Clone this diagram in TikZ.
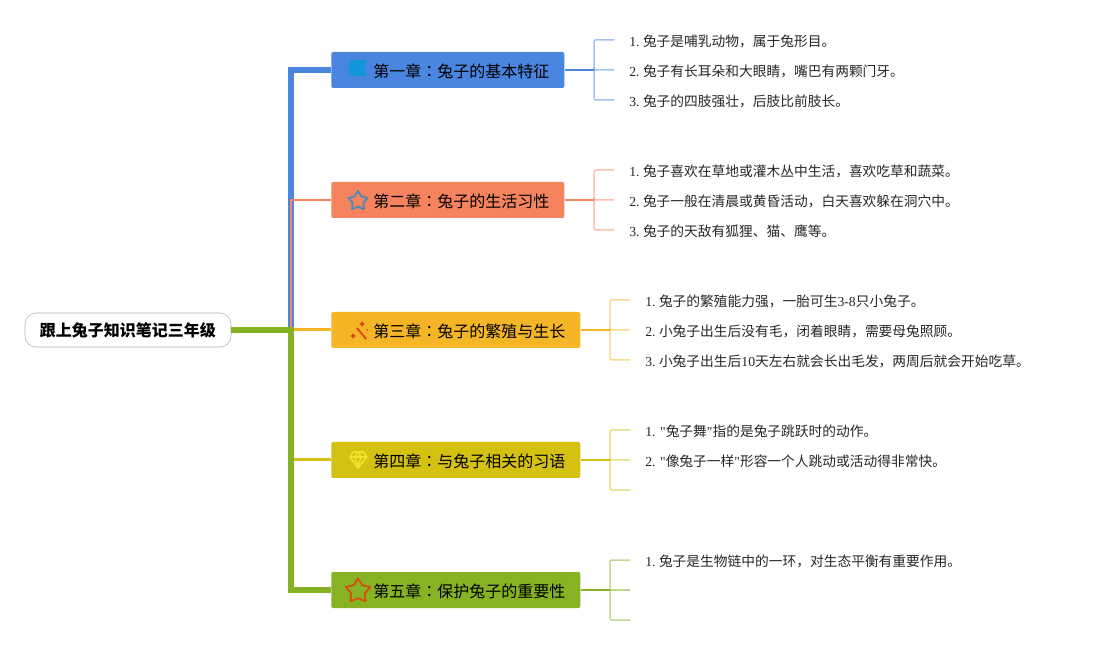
\documentclass[tikz,border=0pt]{standalone}
\usepackage{fontspec}
\usepackage{xcolor}
\usetikzlibrary{shapes.geometric}
\setmainfont{Noto Sans CJK SC}
\newfontfamily\latfont{Liberation Serif}
\newfontfamily\colonfont{Noto Sans CJK TC}
\newcommand{\lat}[1]{{\latfont #1}}
\newcommand{\cln}{{\colonfont ：}}
\newcommand{\chtext}[1]{\raisebox{-.75pt}[\height][\depth]{#1}}
\definecolor{chblue}{HTML}{4A86E0}
\definecolor{chsalmon}{HTML}{F5845E}
\definecolor{chorange}{HTML}{F4B626}
\definecolor{chyellow}{HTML}{D4C112}
\definecolor{chgreen}{HTML}{86B223}
\definecolor{icflag}{HTML}{1296DB}
\definecolor{icstar}{HTML}{5089B4}
\definecolor{icwand}{HTML}{D9431E}
\definecolor{icgem}{HTML}{F2E227}
\definecolor{icred}{HTML}{D4520F}
\tikzset{
 rootbox/.style={draw=black!30,fill=white,rounded corners=11*.75pt,minimum width=206*.75pt,minimum height=34*.75pt,inner sep=0pt,font=\fontsize{12}{14}\selectfont\bfseries},
 chbox/.style={fill=#1,rounded corners=2*.75pt,anchor=west,minimum height=36*.75pt,inner xsep=15*.75pt,inner ysep=0pt,align=right,font=\fontsize{12}{14}\selectfont},
 leafbox/.style={anchor=west,inner xsep=15*.75pt,inner ysep=0pt,text=black!85,font=\fontsize{10.3}{12}\selectfont},
 fork/.style={line width=1.5*.75pt,rounded corners=1pt,opacity=.5},
 icstarbox/.style={star,star points=5,star point ratio=1.75,line join=round,line width=1.4pt,inner sep=0pt}
}
\begin{document}
\begin{tikzpicture}[x=.75pt,y=-.75pt]
 \useasboundingbox (0,0) rectangle (1097,645);
 \node[rootbox] (root) at (128,330) {跟上兔子知识笔记三年级};
 \coordinate (trunk) at (291,330);
 \node[chbox=chblue,text width=203*.75pt] (ch1) at (331,70) {\chtext{第一章\cln 兔子的基本特征}};
 \node[chbox=chsalmon,text width=203*.75pt] (ch2) at (331,200) {\chtext{第二章\cln 兔子的生活习性}};
 \node[chbox=chorange,text width=219*.75pt] (ch3) at (331,330) {\chtext{第三章\cln 兔子的繁殖与生长}};
 \node[chbox=chyellow,text width=219*.75pt] (ch4) at (331,460) {\chtext{第四章\cln 与兔子相关的习语}};
 \node[chbox=chgreen,text width=219*.75pt] (ch5) at (331,590) {\chtext{第五章\cln 保护兔子的重要性}};
 \foreach \n/\c/\w in {1/chblue/6,2/chsalmon/2.5,3/chorange/3,4/chyellow/3,5/chgreen/6}
  \draw[\c,line width=\w*.75pt] (root.east) -- (trunk) |- (ch\n.west);
 \foreach \n/\y/\t in {1/41/{\lat{1.\ }兔子是哺乳动物，属于兔形目。},2/71/{\lat{2.\ }兔子有长耳朵和大眼睛，嘴巴有两颗门牙。},3/101/{\lat{3.\ }兔子的四肢强壮，后肢比前肢长。}}
  \node[leafbox] (a\n) at (614,\y) {\t};
 \foreach \n/\y/\t in {1/171/{\lat{1.\ }兔子喜欢在草地或灌木丛中生活，喜欢吃草和蔬菜。},2/201/{\lat{2.\ }兔子一般在清晨或黄昏活动，白天喜欢躲在洞穴中。},3/231/{\lat{3.\ }兔子的天敌有狐狸、猫、鹰等。}}
  \node[leafbox] (b\n) at (614,\y) {\t};
 \foreach \n/\y/\t in {1/301/{\lat{1.\ }兔子的繁殖能力强，一胎可生\lat{3-8}只小兔子。},2/331/{\lat{2.\ }小兔子出生后没有毛，闭着眼睛，需要母兔照顾。},3/361/{\lat{3.\ }小兔子出生后\lat{10}天左右就会长出毛发，两周后就会开始吃草。}}
  \node[leafbox] (c\n) at (630,\y) {\t};
 \foreach \n/\y/\t in {1/431/{\lat{1. "}兔子舞\lat{"}指的是兔子跳跃时的动作。},2/461/{\lat{2. "}像兔子一样\lat{"}形容一个人跳动或活动得非常快。}}
  \node[leafbox] (d\n) at (630,\y) {\t};
 \node[leafbox] (e1) at (630,561) {\lat{1.\ }兔子是生物链中的一环，对生态平衡有重要作用。};
 \coordinate (d3) at (630,490);
 \coordinate (e2) at (630,590);
 \coordinate (e3) at (630,620);
 \coordinate (fk1) at (594,70);
 \coordinate (fk2) at (594,200);
 \coordinate (fk3) at (610,330);
 \coordinate (fk4) at (610,460);
 \coordinate (fk5) at (610,590);
 \foreach \n/\c in {1/chblue,2/chsalmon,3/chorange,4/chyellow,5/chgreen}
  \draw[\c,line width=2.5*.75pt] (ch\n.east) -- (fk\n);
 \foreach \l in {a1,a2,a3}
  \draw[chblue,fork] (fk1) |- ([yshift=.75pt]\l.west);
 \foreach \l in {b1,b2,b3}
  \draw[chsalmon,fork] (fk2) |- ([yshift=.75pt]\l.west);
 \foreach \l in {c1,c2,c3}
  \draw[chorange,fork] (fk3) |- ([yshift=.75pt]\l.west);
 \foreach \l in {d1,d2}
  \draw[chyellow,fork] (fk4) |- ([yshift=.75pt]\l.west);
 \draw[chyellow,fork] (fk4) |- (d3);
 \draw[chgreen,fork] (fk5) |- ([yshift=.75pt]e1.west);
 \draw[chgreen,fork] (fk5) -- (e2);
 \draw[chgreen,fork] (fk5) |- (e3);
 % icons
 \fill[icflag] (349,60) -- (367,60) -- (364,68) -- (367,76) -- (350,76) -- (350,79) -- (349,79) -- cycle;
 \node[icstarbox,draw=icstar,minimum size=15pt] (star2) at (358,201) {};
 \draw[icwand,line width=1.8*.75pt] (357,328) -- (366,339);
 \fill[icwand] (362,321) -- (363,323) -- (365,324) -- (363,325) -- (362,327) -- (361,325) -- (359,324) -- (361,323) -- cycle;
 \fill[icwand] (353,333) -- (354,335) -- (356,336) -- (354,337) -- (353,339) -- (352,337) -- (350,336) -- (352,335) -- cycle;
 \fill[icwand] (367,330) circle (1*.75pt);
 \draw[icgem,line width=1.8*.75pt,line join=round] (353,452) -- (363,452) -- (367,457) -- (358,468) -- (350,457) -- cycle (350,457) -- (367,457) (355,457) -- (358,467) -- (361,457) -- (358,452) -- cycle;
 \node[icstarbox,draw=icred,minimum size=19pt] (star5) at (358,591) {};
\end{tikzpicture}
\end{document}
